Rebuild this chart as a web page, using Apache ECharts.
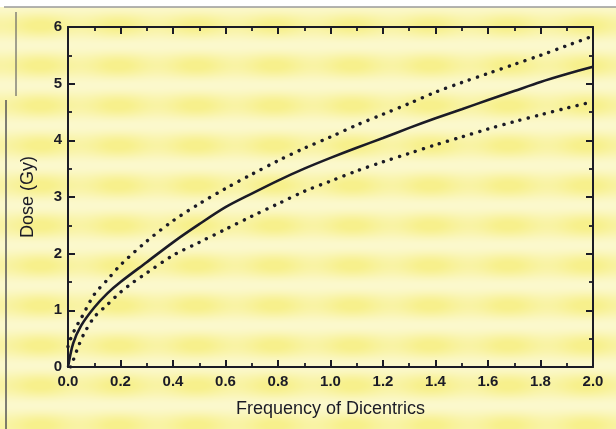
<!DOCTYPE html>
<html>
<head>
<meta charset="utf-8">
<script src="https://cdn.jsdelivr.net/npm/echarts@6/dist/echarts.min.js"></script>
<style>
html,body{margin:0;padding:0;background:#fff;}
#c{width:616px;height:429px;}
</style>
</head>
<body>
<div id="c"></div>
<script>
// Data
const xTicks = ['0.0','0.2','0.4','0.6','0.8','1.0','1.2','1.4','1.6','1.8','2.0'];
const yTicks = ['0','1','2','3','4','5','6'];

const fitFreq = [0, 0.02, 0.05, 0.1, 0.15, 0.2, 0.3, 0.4, 0.5, 0.6, 0.7, 0.8, 0.9, 1.0, 1.1, 1.2, 1.3, 1.4, 1.5, 1.6, 1.7, 1.8, 1.9, 2.0];
const fitDose = [0, 0.42, 0.73, 1.05, 1.3, 1.5, 1.85, 2.2, 2.52, 2.82, 3.06, 3.29, 3.5, 3.69, 3.87, 4.04, 4.22, 4.39, 4.55, 4.71, 4.87, 5.03, 5.17, 5.30];

const upperFreq = [0, 0.01, 0.03, 0.05, 0.1, 0.15, 0.2, 0.3, 0.4, 0.5, 0.6, 0.7, 0.8, 0.9, 1.0, 1.1, 1.2, 1.3, 1.4, 1.5, 1.6, 1.7, 1.8, 1.9, 2.0];
const upperDose = [0.36, 0.5, 0.7, 0.86, 1.28, 1.54, 1.8, 2.22, 2.58, 2.88, 3.15, 3.4, 3.64, 3.86, 4.06, 4.27, 4.46, 4.65, 4.85, 5.02, 5.18, 5.34, 5.5, 5.67, 5.84];

const lowerFreq = [0.01, 0.02, 0.04, 0.06, 0.1, 0.15, 0.2, 0.25, 0.3, 0.4, 0.5, 0.6, 0.7, 0.8, 0.9, 1.0, 1.1, 1.2, 1.3, 1.4, 1.5, 1.6, 1.7, 1.8, 1.9, 2.0];
const lowerDose = [0, 0.12, 0.37, 0.58, 0.88, 1.1, 1.32, 1.5, 1.66, 1.97, 2.2, 2.43, 2.66, 2.88, 3.1, 3.28, 3.46, 3.62, 3.77, 3.92, 4.06, 4.2, 4.33, 4.45, 4.57, 4.68];

const xName = 'Frequency of Dicentrics';
const yName = 'Dose (Gy)';

function pairs(xs, ys){ return xs.map((x,i)=>[x, ys[i]]); }

const ink = '#1b1b26';
const font = 'Liberation Sans, Arial, sans-serif';

// Paper texture (scanned yellow page look)
const W = 616, H = 429;
const bg = document.createElement('canvas');
bg.width = W; bg.height = H;
(function(){
  const ctx = bg.getContext('2d');
  const img = ctx.createImageData(W, H);
  const pale = [252, 250, 220], yel = [247, 240, 140];
  for (let y = 0; y < H; y++) {
    const tb = 0.5 + 0.5 * Math.cos(2 * Math.PI * (y - 25) / 40);
    for (let x = 0; x < W; x++) {
      const tc = 0.5 + 0.5 * Math.cos(2 * Math.PI * (x - 40) / 78);
      let t = tb * (0.5 + 0.35 * tc) + 0.2;
      if (t > 1) t = 1;
      const i = (y * W + x) * 4;
      img.data[i]   = pale[0] + (yel[0] - pale[0]) * t;
      img.data[i+1] = pale[1] + (yel[1] - pale[1]) * t;
      img.data[i+2] = pale[2] + (yel[2] - pale[2]) * t;
      img.data[i+3] = 255;
    }
  }
  ctx.putImageData(img, 0, 0);
})();

const chart = echarts.init(document.getElementById('c'), null, {renderer:'canvas'});

const axisCommon = {
  axisLine:{show:true, onZero:false, lineStyle:{color:ink, width:2}},
  axisTick:{show:true, inside:true, length:7, lineStyle:{color:ink, width:2}},
  minorTick:{show:true, splitNumber:2, length:4, lineStyle:{color:ink, width:1.8}},
  splitLine:{show:false},
  minorSplitLine:{show:false}
};

chart.setOption({
  backgroundColor:'transparent',
  animation:false,
  grid:{left:68, right:23, top:27, bottom:62, containLabel:false},
  xAxis:[
    Object.assign({}, axisCommon, {
      type:'value', min:0, max:2, interval:0.2, position:'bottom',
      axisLabel:{color:ink, fontFamily:font, fontSize:15, fontWeight:'bold', margin:7,
        formatter:(v)=>xTicks[Math.round(v/0.2)]},
      name:xName, nameLocation:'middle', nameGap:33,
      nameTextStyle:{color:ink, fontFamily:font, fontSize:18}
    }),
    Object.assign({}, axisCommon, {
      type:'value', min:0, max:2, interval:0.2, position:'top',
      axisLabel:{show:false}
    })
  ],
  yAxis:[
    Object.assign({}, axisCommon, {
      type:'value', min:0, max:6, interval:1, position:'left',
      axisLabel:{color:ink, fontFamily:font, fontSize:15, fontWeight:'bold', margin:6,
        formatter:(v)=>yTicks[Math.round(v)]},
      name:yName, nameLocation:'middle', nameGap:31,
      nameTextStyle:{color:ink, fontFamily:font, fontSize:18}
    }),
    Object.assign({}, axisCommon, {
      type:'value', min:0, max:6, interval:1, position:'right',
      axisLabel:{show:false}
    })
  ],
  graphic:[
    {type:'image', style:{image:bg, x:0, y:0, width:W, height:H}, z:-100, silent:true},
    {type:'rect', shape:{x:0,y:0,width:616,height:7}, style:{fill:'#ffffff'}, z:-50},
    {type:'line', shape:{x1:4,y1:7,x2:616,y2:7}, style:{stroke:'#9a9a9a', lineWidth:1.5}},
    {type:'line', shape:{x1:16,y1:12,x2:16,y2:96}, style:{stroke:'#666666', lineWidth:1.2}},
    {type:'line', shape:{x1:6,y1:100,x2:6,y2:429}, style:{stroke:'#555555', lineWidth:1.5}}
  ],
  series:[
    {type:'line', name:'fit', data:pairs(fitFreq, fitDose), showSymbol:false, smooth:0.3,
      lineStyle:{color:ink, width:2.6}},
    {type:'line', name:'upper', data:pairs(upperFreq, upperDose), showSymbol:false, smooth:0.3,
      lineStyle:{color:ink, width:3.4, type:[0.1, 8.3], cap:'round'}},
    {type:'line', name:'lower', data:pairs(lowerFreq, lowerDose), showSymbol:false, smooth:0.3,
      lineStyle:{color:ink, width:3.4, type:[0.1, 8.3], cap:'round'}}
  ]
});
</script>
</body>
</html>
